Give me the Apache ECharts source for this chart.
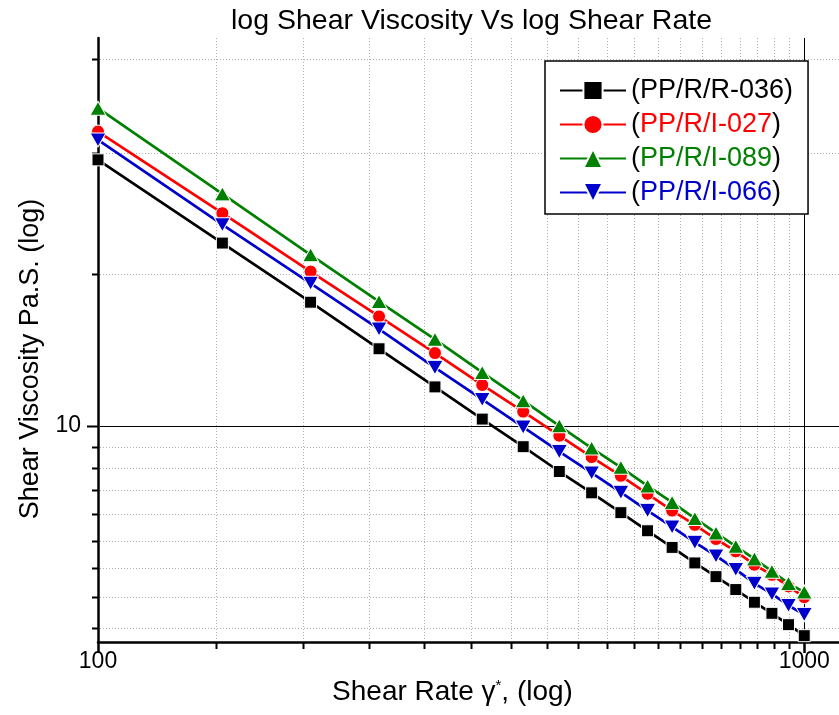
<!DOCTYPE html>
<html>
<head>
<meta charset="utf-8">
<script src="https://cdn.jsdelivr.net/npm/echarts@6/dist/echarts.min.js"></script>
<style>
html,body{margin:0;padding:0;background:#fff;}
#chart{width:839px;height:715px;}
</style>
</head>
<body>
<div id="chart"></div>
<script>
// ---- data ----
const shearRate = [100,150,200,250,300,350,400,450,500,550,600,650,700,750,800,850,900,950,1000];
const seriesNames = ['(PP/R/R-036)', '(PP/R/I-027)', '(PP/R/I-089)', '(PP/R/I-066)'];
const visR036 = [18.71,15.38,13.38,11.99,10.96,10.16,9.52,8.98,8.54,8.15,7.81,7.51,7.24,7.01,6.80,6.60,6.43,6.26,6.10];
const visI027 = [20.00,16.50,14.38,12.94,11.87,11.01,10.34,9.77,9.29,8.89,8.52,8.19,7.92,7.66,7.44,7.21,7.04,6.85,6.68];
const visI089 = [21.13,17.27,14.96,13.40,12.26,11.34,10.61,10.00,9.49,9.07,8.68,8.35,8.04,7.77,7.53,7.31,7.10,6.90,6.76];
const visI066 = [19.61,16.06,13.99,12.56,11.47,10.64,9.97,9.41,8.95,8.55,8.19,7.88,7.60,7.36,7.13,6.90,6.73,6.55,6.41];

// axis ranges and ticks
const xRange = [100, 1120];
const yRange = [6.01, 24.93];
const xMajorTicks = [100, 1000];
const xMinorTicks = [147,195,242,289,337,384,432,479,526,574,621,668,716,763,811,858,905,953];
const yMajorTicks = [10];
const yMinorTicks = [6.21,6.68,7.15,7.63,8.12,8.59,9.05,9.52,14.3,19.0,23.7];
const xTickLabels = [100, 1000];
const yTickLabels = [10];

const colors = ['#000000', '#FF0000', '#008000', '#0000CD'];
const FONT = 'Arial, "Liberation Sans", sans-serif';

const chart = echarts.init(document.getElementById('chart'), null, {renderer: 'canvas'});

function crisp(v) { return Math.round(v) + 0.5; }

function labelFormatter(list) {
  return function (v) {
    for (const t of list) { if (Math.abs(v - t) / t < 1e-6) return String(t); }
    return '';
  };
}

function makeLine(vals, i, symbol, size, rotate) {
  return {
    name: seriesNames[i],
    type: 'line',
    data: shearRate.map((x, k) => [x, vals[k]]),
    symbol: symbol,
    symbolSize: size,
    symbolRotate: rotate || 0,
    showAllSymbol: true,
    lineStyle: {color: colors[i], width: 2.7},
    itemStyle: {color: colors[i], borderColor: '#fff', borderWidth: 1},
    z: 3,
    animation: false
  };
}

const yTickData = yMajorTicks.map(v => [xRange[0], v, 1]).concat(yMinorTicks.map(v => [xRange[0], v, 0]));
const xTickData = xMajorTicks.map(v => [v, yRange[0], 1]).concat(xMinorTicks.map(v => [v, yRange[0], 0]));

function renderYTick(params, api) {
  const cs = params.coordSys;
  const p = api.coord([api.value(0), api.value(1)]);
  const major = api.value(2) === 1;
  const y = crisp(p[1]);
  return {
    type: 'group',
    children: [
      {type: 'line', shape: {x1: cs.x + 2, y1: y, x2: cs.x + cs.width, y2: y},
       style: major ? {stroke: '#000', lineWidth: 1} : {stroke: '#b0b0b0', lineWidth: 1, lineDash: [1, 2]}},
      {type: 'line', shape: {x1: cs.x - (major ? 11 : 6), y1: y, x2: cs.x, y2: y},
       style: {stroke: '#000', lineWidth: 2}}
    ]
  };
}

function renderXTick(params, api) {
  const cs = params.coordSys;
  const p = api.coord([api.value(0), api.value(1)]);
  const major = api.value(2) === 1;
  const x = crisp(p[0]);
  const bottom = cs.y + cs.height;
  return {
    type: 'group',
    children: [
      {type: 'line', shape: {x1: x, y1: cs.y, x2: x, y2: bottom - 2},
       style: major ? {stroke: '#000', lineWidth: 1} : {stroke: '#b0b0b0', lineWidth: 1, lineDash: [1, 2]}},
      {type: 'line', shape: {x1: x, y1: bottom, x2: x, y2: bottom + (major ? 11 : 7)},
       style: {stroke: '#000', lineWidth: major ? 2.5 : 2}}
    ]
  };
}

const richText = {
  p:  {color: '#000', fontSize: 27, fontFamily: FONT},
  c0: {color: colors[0], fontSize: 27, fontFamily: FONT},
  c1: {color: colors[1], fontSize: 27, fontFamily: FONT},
  c2: {color: colors[2], fontSize: 27, fontFamily: FONT},
  c3: {color: colors[3], fontSize: 27, fontFamily: FONT}
};

const option = {
  backgroundColor: '#fff',
  animation: false,
  textStyle: {fontFamily: FONT},
  title: {
    text: 'log Shear Viscosity Vs log Shear Rate',
    left: 226, top: 2,
    textStyle: {fontSize: 28.5, fontWeight: 'normal', color: '#000', fontFamily: FONT}
  },
  legend: {
    orient: 'vertical',
    left: 545, top: 61,
    data: seriesNames,
    itemWidth: 66, itemHeight: 24, itemGap: 7,
    padding: [16, 15, 8, 14],
    borderColor: '#000', borderWidth: 1.5,
    backgroundColor: '#fff',
    selectedMode: false,
    textStyle: {fontSize: 27, lineHeight: 27, fontFamily: FONT, color: '#000', rich: richText},
    formatter: function (name) {
      const i = seriesNames.indexOf(name);
      return '{p|(}{c' + i + '|' + name.slice(1, -1) + '}{p|)}';
    },
    z: 10
  },
  grid: {left: 98, top: 38, bottom: 73, right: -6, containLabel: false},
  xAxis: {
    type: 'log', logBase: 10,
    min: xRange[0], max: xRange[1],
    name: '{a|Shear Rate γ}{s|*}{a|, (log)}',
    nameLocation: 'middle', nameGap: 33,
    nameTextStyle: {
      padding: [0, 32, 0, 0],
      rich: {
        a: {fontSize: 28, fontFamily: FONT, color: '#000'},
        s: {fontSize: 15, fontFamily: FONT, color: '#000', verticalAlign: 'top', padding: [0, 0, 10, 0]}
      }
    },
    axisLine: {show: true, onZero: false, lineStyle: {color: '#000', width: 2.5}},
    axisTick: {show: false},
    splitLine: {show: false},
    minorTick: {show: false},
    axisLabel: {fontSize: 23, color: '#000', fontFamily: FONT, margin: 8, formatter: labelFormatter(xTickLabels), showMaxLabel: false}
  },
  yAxis: {
    type: 'log', logBase: 10,
    min: yRange[0], max: yRange[1],
    name: 'Shear Viscosity Pa.S. (log)',
    nameLocation: 'middle', nameGap: 53, nameRotate: 90,
    nameTextStyle: {fontSize: 27, fontFamily: FONT, color: '#000', padding: [0, 38, 0, 0]},
    axisLine: {show: true, onZero: false, lineStyle: {color: '#000', width: 2.5}},
    axisTick: {show: false},
    splitLine: {show: false},
    minorTick: {show: false},
    axisLabel: {fontSize: 23, color: '#000', fontFamily: FONT, margin: 17, formatter: labelFormatter(yTickLabels), showMinLabel: false, showMaxLabel: false}
  },
  series: [
    {type: 'custom', name: 'yTicks', data: yTickData, renderItem: renderYTick, z: 1, silent: true, clip: false, animation: false},
    {type: 'custom', name: 'xTicks', data: xTickData, renderItem: renderXTick, z: 1, silent: true, clip: false, animation: false},
    makeLine(visR036, 0, 'rect', 12),
    makeLine(visI027, 1, 'circle', 13),
    makeLine(visI089, 2, 'triangle', [16, 14]),
    makeLine(visI066, 3, 'triangle', [16, 14], 180)
  ]
};

chart.setOption(option);
</script>
</body>
</html>
